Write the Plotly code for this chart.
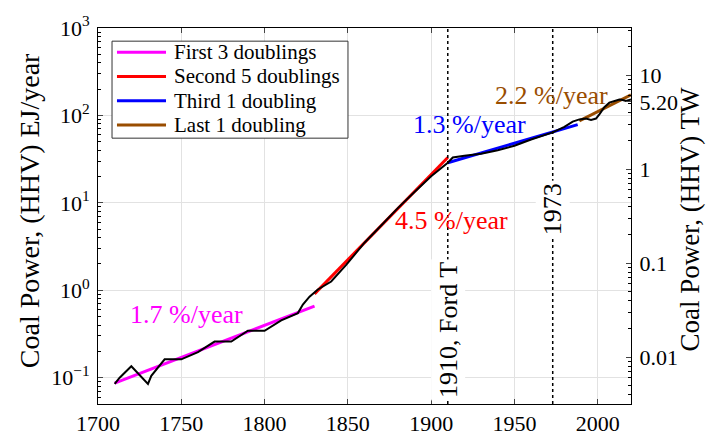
import numpy as np
import plotly.graph_objects as go

# Historical coal power, EJ/year (HHV)
years = [1710, 1713, 1720, 1730, 1732, 1740, 1750, 1760, 1770, 1780, 1790, 1800,
         1810, 1820, 1823, 1827, 1832, 1840, 1849, 1853, 1860, 1870, 1880, 1890,
         1900, 1910, 1913, 1920, 1930, 1940, 1950, 1960, 1970, 1973, 1980, 1985,
         1989, 1993, 1996, 1999, 2001, 2004, 2007, 2010, 2013, 2015, 2017, 2020]
power = [0.085, 0.10, 0.135, 0.085, 0.105, 0.162, 0.162, 0.196, 0.259, 0.259, 0.344, 0.344,
         0.452, 0.548, 0.687, 0.845, 1.02, 1.26, 1.95, 2.40, 3.5, 5.5, 8.7, 13.3,
         20.1, 28.7, 33.0, 34.5, 36.5, 40.0, 45.0, 53.0, 61.0, 64.0, 74.0, 85.0,
         90.0, 92.0, 89.0, 92.0, 103.0, 124.0, 140.0, 147.0, 152.0, 150.0, 146.0, 152.0]

# Exponential fits, drawn between their end points
fit_names = ["First 3 doublings", "Second 5 doublings", "Third 1 doubling", "Last 1 doubling"]
fit_years = [[1710, 1830], [1830, 1910], [1910, 1988], [1989, 2020]]
fit_values = [[0.0867, 0.66], [0.91, 33.0], [28.7, 78.5], [86.7, 172.0]]
fit_colors = ["#ff00ff", "#ff0000", "#0000ff", "#994d00"]
fit_rates = ["1.7 %/year", "4.5 %/year", "1.3 %/year", "2.2 %/year"]
rate_label_at = [(1753, 0.534), (1912, 6.2), (1923, 77.8), (1972, 169.0)]

# Event markers
event_years = [1910, 1973]
event_labels = ["1910, Ford T", "1973"]
event_label_y = [0.35, 8.4]

EJ_PER_TW = 31.536
left_ticks = [0.1, 1, 10, 100, 1000]
left_ticktext = ["10<sup>\u22121</sup>", "10<sup>0</sup>", "10<sup>1</sup>",
                 "10<sup>2</sup>", "10<sup>3</sup>"]
right_ticks = [0.01, 0.1, 1, 5.2, 10]
right_ticktext = ["0.01", "0.1", "1", "5.20", "10"]
x_ticks = [1700, 1750, 1800, 1850, 1900, 1950, 2000]

FONT = "Liberation Serif"

fig = go.Figure()
for name, xs, vs, c in zip(fit_names, fit_years, fit_values, fit_colors):
    fig.add_trace(go.Scatter(x=xs, y=vs, mode="lines", name=name, showlegend=False,
                             line=dict(color=c, width=3)))
fig.add_trace(go.Scatter(x=years, y=power, mode="lines", showlegend=False,
                         line=dict(color="black", width=2)))
# invisible trace to activate the TW axis
fig.add_trace(go.Scatter(x=[years[0]], y=[power[0] / EJ_PER_TW], yaxis="y2",
                         mode="lines", showlegend=False, hoverinfo="skip",
                         line=dict(width=0)))

for yr in event_years:
    fig.add_shape(type="line", x0=yr, x1=yr, xref="x", y0=0, y1=1, yref="paper",
                  line=dict(color="black", width=1.5, dash="dot"), layer="above")

# Legend box (paper coordinates)
LEG_X0, LEG_X1, LEG_Y0, LEG_Y1 = 0.0263, 0.469, 0.707, 0.965
fig.add_shape(type="rect", xref="paper", yref="paper", x0=LEG_X0, x1=LEG_X1,
              y0=LEG_Y0, y1=LEG_Y1, line=dict(color="#333333", width=1),
              fillcolor="white", layer="above")
annotations = []
row_h = (LEG_Y1 - LEG_Y0) / 4
for i, (name, c) in enumerate(zip(fit_names, fit_colors)):
    yy = LEG_Y1 - (i + 0.5) * row_h + 0.003
    fig.add_shape(type="line", xref="paper", yref="paper", x0=0.0356, x1=0.1276,
                  y0=yy, y1=yy, line=dict(color=c, width=3), layer="above")
    annotations.append(dict(x=0.1388, y=yy, xref="paper", yref="paper", text=name,
                            xanchor="left", yanchor="middle", showarrow=False,
                            font=dict(family=FONT, size=21, color="black")))

for txt, (ax, ay), c in zip(fit_rates, rate_label_at, fit_colors):
    annotations.append(dict(x=ax, y=np.log10(ay), xref="x", yref="y", text=txt,
                            showarrow=False, font=dict(family=FONT, size=26, color=c)))
for yr, txt, ly in zip(event_years, event_labels, event_label_y):
    annotations.append(dict(x=yr, y=np.log10(ly), xref="x", yref="y", text=txt,
                            textangle=-90, showarrow=False, bgcolor="white",
                            borderpad=2,
                            font=dict(family=FONT, size=26, color="black")))
annotations.append(dict(x=-0.128, y=0.515, xref="paper", yref="paper",
                        xanchor="center", yanchor="middle",
                        text="Coal Power, (HHV) EJ/year", textangle=-90, showarrow=False,
                        font=dict(family=FONT, size=28, color="black")))
annotations.append(dict(x=1.11, y=0.49, xref="paper", yref="paper",
                        xanchor="center", yanchor="middle",
                        text="Coal Power, (HHV) TW", textangle=-90, showarrow=False,
                        font=dict(family=FONT, size=27, color="black")))

left_minor = [m * 10.0 ** k for k in range(-2, 3) for m in range(2, 10)]
right_minor = [m * 10.0 ** k for k in range(-3, 2) for m in range(2, 10)]

fig.update_layout(
    width=707, height=448,
    margin=dict(l=98, r=76, t=24, b=28),
    paper_bgcolor="white", plot_bgcolor="white",
    font=dict(family=FONT, size=22, color="black"),
    annotations=annotations,
    showlegend=False,
    xaxis=dict(range=[1700, 2020], tickvals=x_ticks, ticks="inside", ticklen=5,
               showline=True, linecolor="black", linewidth=1, mirror="ticks",
               showgrid=True, gridcolor="#e2e2e2", gridwidth=1, zeroline=False,
               tickfont=dict(size=22)),
    yaxis=dict(type="log", range=[np.log10(0.05), 3], tickvals=left_ticks,
               ticktext=left_ticktext, ticks="inside", ticklen=5,
               showline=True, linecolor="black", linewidth=1,
               showgrid=True, gridcolor="#e2e2e2", gridwidth=1, zeroline=False,
               tickfont=dict(size=22), ticklabelstandoff=3,
               minor=dict(tickvals=left_minor, ticks="inside", ticklen=3,
                          tickcolor="black", showgrid=False)),
    yaxis2=dict(type="log", overlaying="y", side="right",
                range=[np.log10(0.1 / EJ_PER_TW), np.log10(1000 / EJ_PER_TW)],
                tickvals=right_ticks, ticktext=right_ticktext, ticks="inside",
                ticklen=5, showline=True, linecolor="black", linewidth=1,
                showgrid=False, zeroline=False, tickfont=dict(size=22),
                ticklabelstandoff=3,
                minor=dict(tickvals=right_minor, ticks="inside", ticklen=3,
                           tickcolor="black", showgrid=False)),
)

fig.write_html("out.html")
